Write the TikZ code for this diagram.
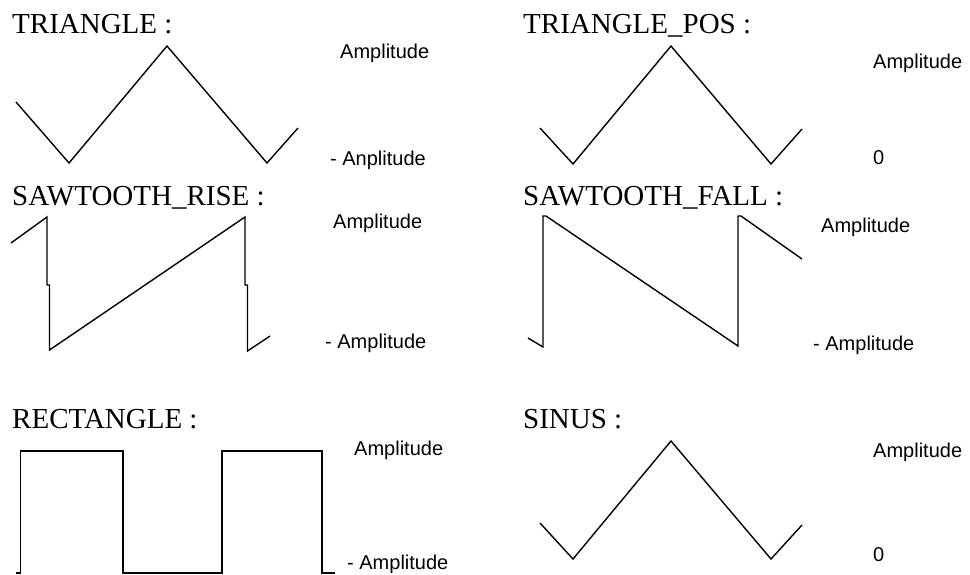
\documentclass[tikz,border=0pt]{standalone}
\usepackage{fontspec}
\setmainfont{Liberation Serif}
\newfontfamily\labfont{Liberation Sans}
\begin{document}
\begin{tikzpicture}[x=1pt,y=-1pt,
  title/.style={anchor=base west,inner sep=0pt,font=\fontsize{29}{31}\selectfont},
  lab/.style={anchor=west,inner sep=0pt,font=\labfont\fontsize{20}{22}\selectfont},
  wave/.style={line width=1.4pt,line join=miter,black},
  vwave/.style={line width=1.8pt,line join=miter,black}]
\useasboundingbox (0,0) rectangle (970,574);
% TRIANGLE
\node[title] (t1) at (12,33) {TRIANGLE :};
\draw[wave] (16,102) -- (69,163) -- (167,46) -- (267,163) -- (298,128);
\node[lab] (t1a) at (340,53) {Amplitude};
\node[lab] (t1b) at (330,160) {- Anplitude};
% TRIANGLE_POS
\node[title] (t2) at (523,33) {TRIANGLE\_POS :};
\draw[wave] (540,128) -- (573,164) -- (671,46) -- (771,164) -- (802,129);
\node[lab] (t2a) at (873,63) {Amplitude};
\node[lab] (t2b) at (873,158) {0};
% SAWTOOTH_RISE
\node[title] (t3) at (12,205) {SAWTOOTH\_RISE :};
\draw[wave] (11,243) -- (47,217) -- (47,285) -- (49.5,285) -- (49.5,350) -- (245,217) -- (245,285) -- (247.5,285) -- (247.5,351) -- (270,336);
\node[lab] (t3a) at (333,223) {Amplitude};
\node[lab] (t3b) at (325,343) {- Amplitude};
% SAWTOOTH_FALL
\node[title] (t4) at (523,205) {SAWTOOTH\_FALL :};
\draw[wave] (528,338) -- (543,347) -- (543,216) -- (546,216) -- (738,346) -- (738,216) -- (741,216) -- (802,259);
\node[lab] (t4a) at (821,227) {Amplitude};
\node[lab] (t4b) at (813,345) {- Amplitude};
% RECTANGLE
\node[title] (t5) at (12,428) {RECTANGLE :};
\draw[vwave] (16,573) -- (20.5,573) -- (20.5,451) -- (123,451) -- (123,573) -- (222,573) -- (222,451) -- (322,451) -- (322,573) -- (335,573);
\node[lab] (t5a) at (354,450) {Amplitude};
\node[lab] (t5b) at (347,564) {- Amplitude};
% SINUS
\node[title] (t6) at (523,428) {SINUS :};
\draw[wave] (540,523) -- (573,559) -- (671,441) -- (771,559) -- (802,525);
\node[lab] (t6a) at (873,452) {Amplitude};
\node[lab] (t6b) at (873,555) {0};
\end{tikzpicture}
\end{document}
